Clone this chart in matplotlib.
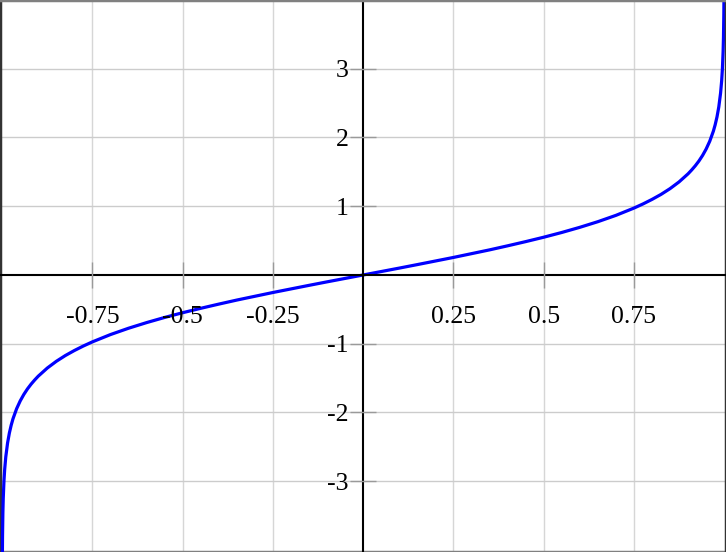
import matplotlib
matplotlib.use("Agg")
import matplotlib.pyplot as plt  # noqa: E402
from matplotlib.ticker import FixedLocator, FixedFormatter  # noqa: E402

# points (moitie positive ; la courbe est impaire)
x_pos = [0.0, 0.05, 0.1, 0.15, 0.2, 0.25, 0.3, 0.35, 0.4, 0.45, 0.5, 0.55,
         0.6, 0.65, 0.7, 0.75, 0.775, 0.8, 0.825, 0.85, 0.875, 0.9, 0.91,
         0.92, 0.93, 0.94, 0.95, 0.96, 0.97, 0.975, 0.98, 0.985, 0.99,
         0.993, 0.995, 0.997, 0.998, 0.999, 0.9995]
y_pos = [0.0, 0.050, 0.100, 0.151, 0.203, 0.255, 0.310, 0.365, 0.424, 0.485,
         0.549, 0.618, 0.693, 0.775, 0.867, 0.973, 1.033, 1.099, 1.172, 1.256,
         1.354, 1.472, 1.528, 1.589, 1.658, 1.738, 1.832, 1.946, 2.092, 2.185,
         2.298, 2.443, 2.647, 2.826, 2.994, 3.250, 3.453, 3.800, 4.147]

x_ticks = [-0.75, -0.5, -0.25, 0.25, 0.5, 0.75]
x_labels = ["-0.75", "-0.5", "-0.25", "0.25", "0.5", "0.75"]
y_ticks = [-3, -2, -1, 1, 2, 3]
y_labels = ["-3", "-2", "-1", "1", "2", "3"]

xs = [-v for v in reversed(x_pos[1:])] + x_pos
ys = [-v for v in reversed(y_pos[1:])] + y_pos

plt.rcParams["font.family"] = ["Liberation Serif", "DejaVu Serif"]

fig = plt.figure(figsize=(7.26, 5.52), dpi=100)
ax = fig.add_axes([0, 0, 1, 1])
ax.set_xlim(-1.006, 1.005)
ax.set_ylim(-4.03, 4.0)
ax.set_axisbelow(False)  # etiquettes par-dessus la courbe

# grille legere
for v in x_ticks:
    ax.axvline(v, color="#d6d6d6", lw=1.0, zorder=0)
for v in y_ticks:
    ax.axhline(v, color="#cccccc", lw=1.0, zorder=0)

# axes passant par l'origine
ax.spines["left"].set_position(("data", 0))
ax.spines["bottom"].set_position(("data", 0))
ax.spines["left"].set_color("black")
ax.spines["bottom"].set_color("black")
ax.spines["left"].set_linewidth(1.5)
ax.spines["bottom"].set_linewidth(1.5)
ax.spines["top"].set_color("#808080")
ax.spines["top"].set_linewidth(2.5)
ax.spines["right"].set_color("#333333")
ax.spines["right"].set_linewidth(2.5)

# cadre bas et gauche
ax.plot([0, 1], [0, 0], transform=ax.transAxes, color="#808080", lw=2.5,
        clip_on=False)
ax.plot([0, 0], [0, 1], transform=ax.transAxes, color="#333333", lw=2.5,
        clip_on=False)

ax.xaxis.set_major_locator(FixedLocator(x_ticks))
ax.xaxis.set_major_formatter(FixedFormatter(x_labels))
ax.yaxis.set_major_locator(FixedLocator(y_ticks))
ax.yaxis.set_major_formatter(FixedFormatter(y_labels))
ax.tick_params(direction="inout", length=19, width=1, color="#9a9a9a",
               labelsize=18.5)
ax.tick_params(axis="x", pad=13)
ax.tick_params(axis="y", pad=1)

ax.plot(xs, ys, color="#0000ff", lw=2.3, zorder=2, solid_capstyle="butt")

fig.savefig("out.png", dpi=100)
